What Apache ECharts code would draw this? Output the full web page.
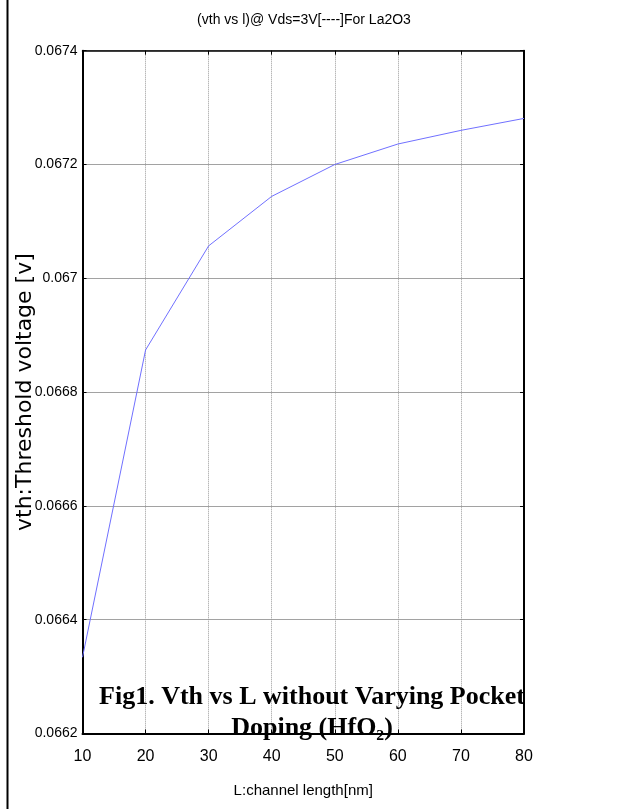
<!DOCTYPE html>
<html>
<head>
<meta charset="utf-8">
<script src="https://cdn.jsdelivr.net/npm/echarts@6/dist/echarts.min.js"></script>
<style>
html,body{margin:0;padding:0;background:#fff;}
#chart{width:638px;height:809px;}
</style>
</head>
<body>
<div id="chart"></div>
<script>
// Data
const channelLength = [10, 20, 30, 40, 50, 60, 70, 80];          // L [nm]
const thresholdVoltage = [0.066334, 0.066874, 0.067057, 0.067144, 0.067200, 0.067236, 0.067260, 0.067281]; // vth [V]
const yTicks = [0.0662, 0.0664, 0.0666, 0.0668, 0.067, 0.0672, 0.0674];
const xTicks = [10, 20, 30, 40, 50, 60, 70, 80];

const titleText = '(vth vs l)@ Vds=3V[----]For La2O3';
const captionText = 'Fig1. Vth vs L without Varying Pocket\nDoping (HfO\u2082)';
const xName = 'L:channel length[nm]';
const yName = 'vth:Threshold voltage [v]';

const narrow = '"Liberation Sans Narrow", "Arial Narrow", "Liberation Sans", Arial, sans-serif';

const chart = echarts.init(document.getElementById('chart'), null, {renderer: 'canvas'});

const fmtY = v => Number(v.toFixed(4)).toString();

const option = {
  backgroundColor: '#ffffff',
  animation: false,
  title: [
    {
      text: titleText,
      left: 299, top: 8, textAlign: 'center',
      textStyle: {fontFamily: narrow, fontSize: 14, fontWeight: 'normal', color: '#000'}
    },
    {
      text: captionText,
      left: 307, top: 677, textAlign: 'center',
      textStyle: {fontFamily: '"Liberation Serif", "Times New Roman", serif', fontSize: 26, fontWeight: 'bold', color: '#000', lineHeight: 31}
    }
  ],
  grid: {left: 82.5, right: 114, top: 50.7, bottom: 75.5, containLabel: false, outerBoundsMode: 'none'},
  xAxis: [
    {
      type: 'value', min: 10, max: 80, interval: 10,
      name: xName, nameLocation: 'middle', nameGap: 50, nameMoveOverlap: false,
      nameTextStyle: {fontFamily: narrow, fontSize: 15, color: '#000'},
      axisLine: {show: true, onZero: false, lineStyle: {color: '#000', width: 2}},
      axisTick: {show: true, inside: true, length: 4, lineStyle: {color: '#000'}},
      axisLabel: {fontFamily: narrow, fontSize: 16, color: '#000', margin: 15, formatter: v => String(v)},
      splitLine: {show: true, lineStyle: {color: '#9a9a9a', type: 'dotted', width: 1}}
    },
    {
      type: 'value', position: 'top', min: 10, max: 80, interval: 10,
      axisLine: {show: true, onZero: false, lineStyle: {color: '#000', width: 1.5}},
      axisTick: {show: true, inside: true, length: 4, lineStyle: {color: '#000'}},
      axisLabel: {show: false}, splitLine: {show: false}
    }
  ],
  yAxis: [
    {
      type: 'value', min: 0.0662, max: 0.0674, interval: 0.0002,
      name: yName, nameLocation: 'middle', nameGap: 46, nameRotate: 90, nameMoveOverlap: false,
      nameTextStyle: {fontFamily: '"DejaVu Sans", Verdana, sans-serif', fontSize: 22, color: '#000'},
      axisLine: {show: true, onZero: false, lineStyle: {color: '#000', width: 2}},
      axisTick: {show: true, inside: true, length: 4, lineStyle: {color: '#000'}},
      axisLabel: {fontFamily: narrow, fontSize: 14, color: '#000', margin: 5, formatter: fmtY},
      splitLine: {show: true, lineStyle: {color: '#444', type: 'dotted', width: 1}}
    },
    {
      type: 'value', position: 'right', min: 0.0662, max: 0.0674, interval: 0.0002,
      axisLine: {show: true, onZero: false, lineStyle: {color: '#000', width: 2}},
      axisTick: {show: true, inside: true, length: 4, lineStyle: {color: '#000'}},
      axisLabel: {show: false}, splitLine: {show: false}
    }
  ],
  graphic: [
    {type: 'line', shape: {x1: 7.5, y1: 0, x2: 7.5, y2: 809}, style: {stroke: '#000', lineWidth: 2}, silent: true}
  ],
  series: [
    {
      type: 'line',
      data: channelLength.map((x, i) => [x, thresholdVoltage[i]]),
      showSymbol: false,
      lineStyle: {color: '#7070ff', width: 1},
      z: 3
    }
  ]
};

chart.setOption(option);
</script>
</body>
</html>
